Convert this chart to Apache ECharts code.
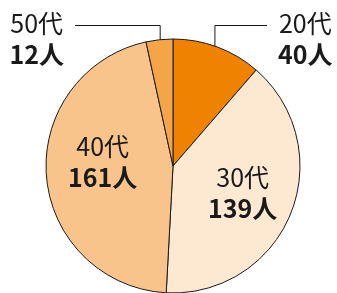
<!DOCTYPE html>
<html><head><meta charset="utf-8">
<script src="https://cdn.jsdelivr.net/npm/echarts@6/dist/echarts.min.js"></script>
<style>html,body{margin:0;padding:0;background:#fff}#c{width:337px;height:293px}</style>
</head><body><div id="c"></div>
<script>
var categories = ['20代', '30代', '40代', '50代'];
var values = [40, 139, 161, 12];
var unitLabels = ['40人', '139人', '161人', '12人'];
var colors = ['#ef8200', '#fde9d2', '#f8c48c', '#f3a548'];

var CX = 173, CY = 166, R = 127;
var FONT = '"Noto Sans CJK JP", "Noto Sans", sans-serif';

var chart = echarts.init(document.getElementById('c'), null, {renderer: 'canvas'});

var data = categories.map(function (c, i) {
  var outside = (i === 0 || i === 3);
  return {
    name: c,
    value: values[i],
    itemStyle: {color: colors[i]},
    label: {position: outside ? 'outside' : 'inside'},
    labelLine: {show: outside, length: 10, length2: 10}
  };
});

chart.setOption({
  animation: false,
  series: [{
    type: 'pie',
    center: [CX, CY],
    radius: R,
    startAngle: 90,
    clockwise: true,
    data: data,
    itemStyle: {borderColor: '#1a1a1a', borderWidth: 1},
    emphasis: {disabled: true},
    label: {
      show: true,
      color: '#1a1a1a',
      fontFamily: FONT,
      formatter: function (p) {
        return '{a|' + p.name + '}\n{b|' + unitLabels[p.dataIndex] + '}';
      },
      rich: {
        a: {fontFamily: FONT, fontSize: 25, fontWeight: 'normal', color: '#1a1a1a', lineHeight: 31, align: 'center'},
        b: {fontFamily: FONT, fontSize: 25, fontWeight: 'bold', color: '#1a1a1a', lineHeight: 31, align: 'center'}
      }
    },
    labelLine: {lineStyle: {color: '#1a1a1a', width: 1}},
    labelLayout: function (params) {
      var i = params.dataIndex;
      var pts = params.labelLinePoints;
      if (i === 0 || i === 3) {
        var p0 = pts ? pts[0] : [CX, CY - R];
        var dx = p0[0] - CX, dy = p0[1] - CY;
        var d = Math.sqrt(dx * dx + dy * dy);
        var q = [CX + dx * (d - 7) / d, CY + dy * (d - 7) / d];
        var ly = 25.5;
        if (i === 0) {
          return {x: 278, y: 39, align: 'left', verticalAlign: 'middle',
            labelLinePoints: [q, [q[0], ly], [267, ly]]};
        } else {
          return {x: 64, y: 39, align: 'right', verticalAlign: 'middle',
            labelLinePoints: [q, [q[0], ly], [75, ly]]};
        }
      }
      if (i === 1) return {dx: 8, dy: 2};
      if (i === 2) return {dx: -4, dy: -9};
      return {};
    }
  }]
});
</script></body></html>
